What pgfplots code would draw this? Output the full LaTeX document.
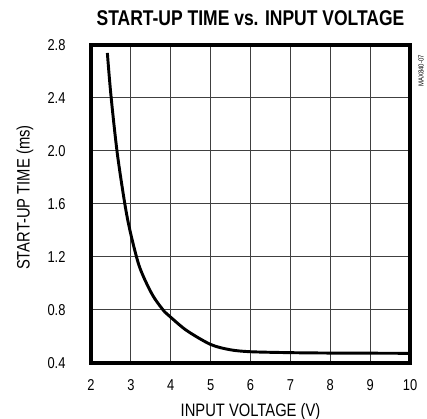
\documentclass[border=0pt]{standalone}
\usepackage{fontspec}
\setmainfont{Liberation Sans}[FakeStretch=0.82]
\usepackage{pgfplots}
\pgfplotsset{compat=1.18}
\usetikzlibrary{calc}
\begin{document}
\begin{tikzpicture}
\begin{axis}[
  scale only axis,
  width=239.25pt, height=238.5pt,
  xmin=2, xmax=10, ymin=0.4, ymax=2.8,
  xtick={2,3,...,10},
  ytick={0.4,0.8,1.2,1.6,2.0,2.4,2.8},
  yticklabels={0.4,0.8,1.2,1.6,2.0,2.4,2.8},
  major tick length=0pt,
  /pgf/number format/assume math mode=true,
  grid=major,
  major grid style={line width=0.75pt, black!75},
  axis line style={line width=2.4pt},
  tick label style={font=\fontsize{11.8}{13}\selectfont},
  xticklabel style={anchor=center, yshift=-16.5pt},
  yticklabel style={anchor=east, xshift=-15.6pt},
  xlabel={INPUT VOLTAGE (V)},
  ylabel={START-UP TIME (ms)},
  label style={font=\fontsize{13.5}{15}\selectfont},
  xlabel style={at={(axis description cs:0.5,-0.153)}, anchor=center},
  ylabel style={at={(axis description cs:-0.207,0.52)}, anchor=center},
  title={START-UP TIME vs. INPUT VOLTAGE},
  title style={font=\fontsize{16}{18}\selectfont\bfseries, at={(axis description cs:0.5,1.06)}, anchor=center},
  clip=false,
]
\addplot[line width=2.2pt, black, smooth] coordinates {
(2.41,2.74) (2.50,2.42) (2.66,1.98) (2.86,1.58) (3.00,1.37) (3.20,1.14)
(3.41,0.99) (3.60,0.885) (3.85,0.785) (4.00,0.745) (4.40,0.645) (5.00,0.54) (5.49,0.50)
(6.00,0.485) (7.00,0.478) (8.00,0.475) (9.00,0.474) (10.0,0.473)
};
\node[rotate=90, font=\fontsize{5.5}{6}\selectfont, anchor=center] at (axis description cs:1.0345,0.918) {MAX840-07};
\end{axis}
\pgfresetboundingbox
\path ($(current axis.south west)+(-68.25pt,-42pt)$) rectangle ($(current axis.north east)+(12.75pt,33.75pt)$);
\end{tikzpicture}
\end{document}
